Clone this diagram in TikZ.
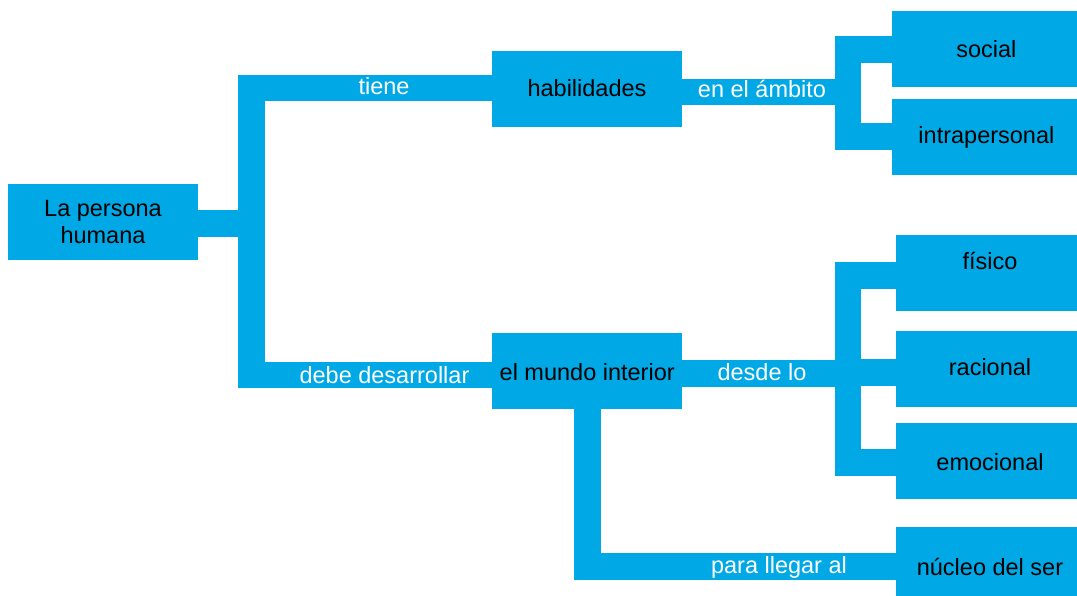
\documentclass[tikz,border=0pt]{standalone}
\usepackage{fontspec}
\setmainfont{Liberation Sans}
\definecolor{cblue}{RGB}{0,168,230}
\begin{document}
\begin{tikzpicture}[x=1pt,y=-1pt,
  box/.style={fill=cblue, draw=none, inner sep=0pt},
  conn/.style={draw=cblue, line width=26.7pt, line join=miter, line cap=butt},
  lbl/.style={text=white, font=\fontsize{23.5}{26.6}\selectfont, anchor=base, inner sep=0pt},
  txt/.style={text=black, font=\fontsize{23.5}{26.6}\selectfont, anchor=base, inner sep=0pt}]
\useasboundingbox (0,0) rectangle (1077,596);
\clip (0,0) rectangle (1077,596);

% junction coordinates
\coordinate (j1) at (251.5,223.5);
\coordinate (j1t) at (251.5,88);
\coordinate (j1b) at (251.5,375);
\coordinate (j2) at (848,92);
\coordinate (j2t) at (848,49.3);
\coordinate (j2b) at (848,136.7);
\coordinate (j3) at (848,373.3);
\coordinate (j3t) at (848,275.8);
\coordinate (j3m) at (848,372.3);
\coordinate (j3b) at (848,462.5);
\coordinate (j4) at (587.5,566.7);

% boxes
\node[box, minimum width=190pt, minimum height=76pt] (persona) at (103,222) {};
\node[box, minimum width=190pt, minimum height=75.7pt] (hab) at (587,88.85) {};
\node[box, minimum width=190pt, minimum height=75.7pt] (mundo) at (587,371.2) {};
\node[box, minimum width=189pt, minimum height=75.7pt] (social) at (986.5,49) {};
\node[box, minimum width=189pt, minimum height=75.7pt] (intra) at (986.5,136.7) {};
\node[box, minimum width=188pt, minimum height=75.7pt] (fisico) at (990,273) {};
\node[box, minimum width=188pt, minimum height=75.7pt] (racional) at (990,369) {};
\node[box, minimum width=188pt, minimum height=75.7pt] (emo) at (990,461) {};
\node[box, minimum width=188pt, minimum height=76pt] (nucleo) at (990,565) {};

% box texts
\node[txt] (tpersona1) at (103,216.7) {La persona};
\node[txt] (tpersona2) at (103,243.3) {humana};
\node[txt] (thab) at (587,96.7) {habilidades};
\node[txt] (tmundo) at (587.2,380.7) {el mundo interior};
\node[txt] (tsocial) at (986.4,57.3) {social};
\node[txt] (tintra) at (986.4,144) {intrapersonal};
\node[txt] (tfisico) at (990,270) {físico};
\node[txt] (tracional) at (990,375) {racional};
\node[txt] (temo) at (990,470.7) {emocional};
\node[txt] (tnucleo) at (990,575) {núcleo del ser};

% connectors
\draw[conn] (persona.east |- j1) -- (j1);
\draw[conn] (hab.west |- j1t) -- (j1t) -- (j1b) -- (mundo.west |- j1b);
\draw[conn] (hab.east |- j2) -- (j2);
\draw[conn] (social.west |- j2t) -- (j2t) -- (j2b) -- (intra.west |- j2b);
\draw[conn] (mundo.east |- j3) -- (j3);
\draw[conn] (fisico.west |- j3t) -- (j3t) -- (j3b) -- (emo.west |- j3b);
\draw[conn] (racional.west |- j3m) -- (j3m);
\draw[conn] (mundo.south -| j4) -- (j4) -- (nucleo.west |- j4);

% connector labels
\node[lbl] (ltiene) at (384,95) {tiene};
\node[lbl] (ldebe) at (384.5,383.3) {debe desarrollar};
\node[lbl] (lambito) at (762,97.3) {en el ámbito};
\node[lbl] (ldesde) at (762,380.7) {desde lo};
\node[lbl] (lpara) at (779,573.3) {para llegar al};
\end{tikzpicture}
\end{document}
